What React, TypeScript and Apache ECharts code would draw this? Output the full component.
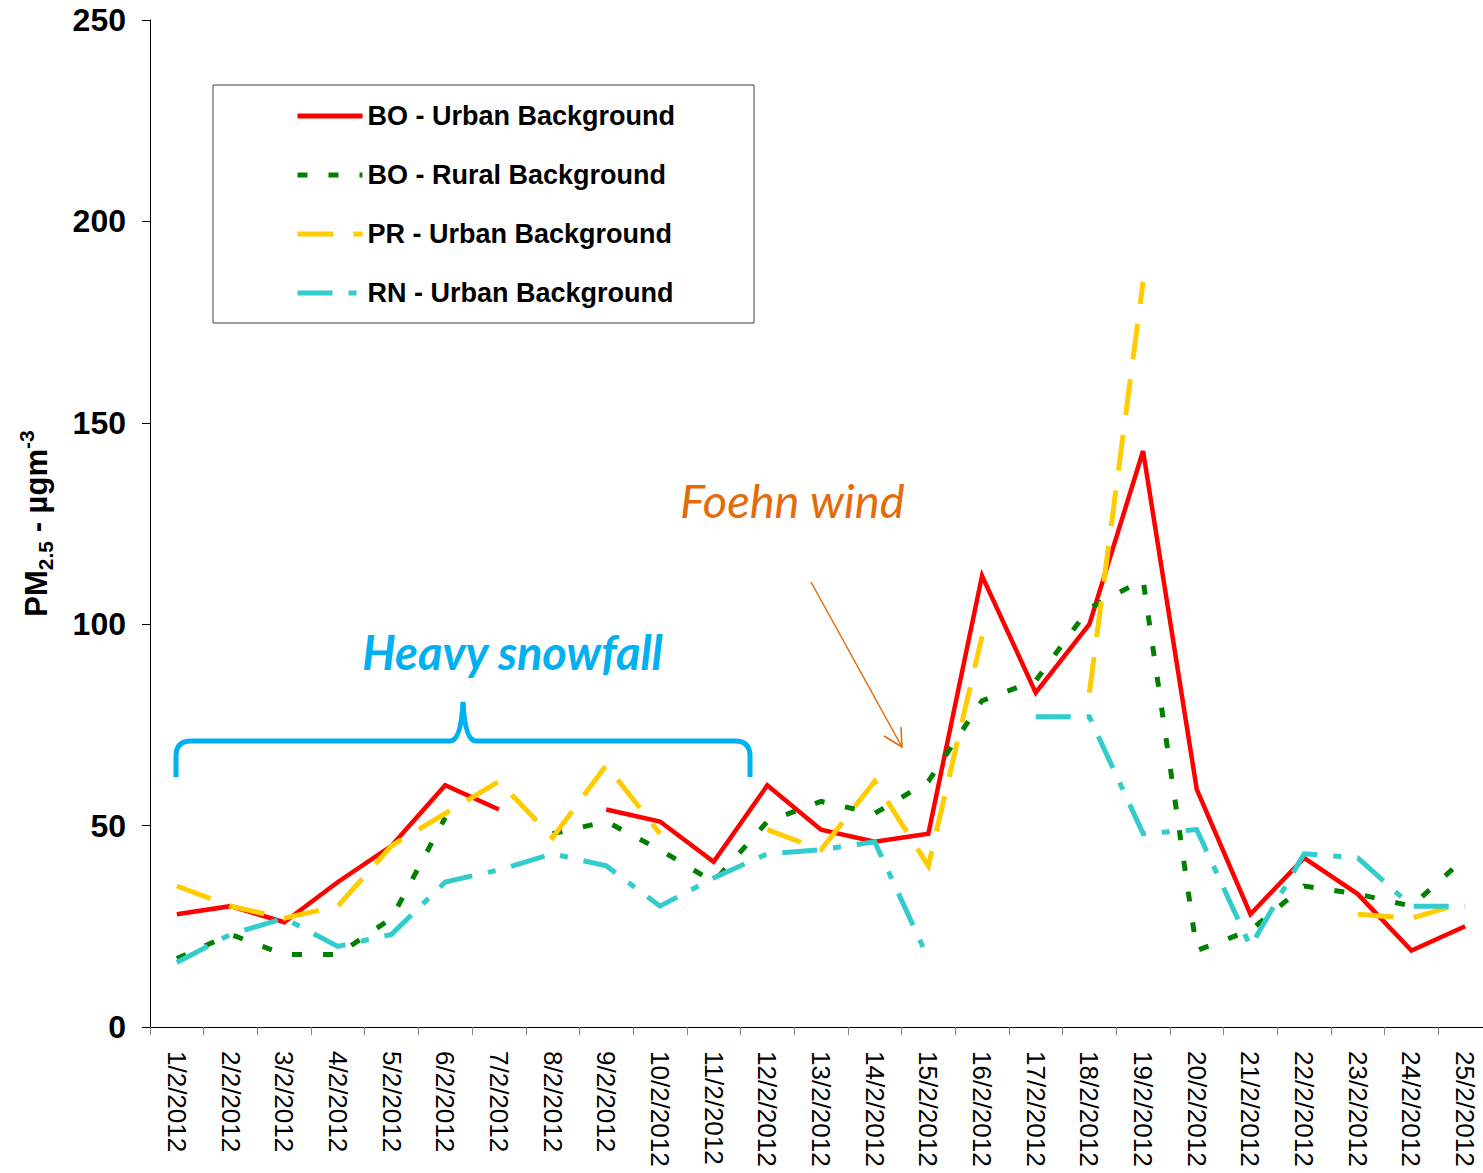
import React, { useEffect, useRef } from "react";
import * as echarts from "echarts";

const categories = [
  "1/2/2012", "2/2/2012", "3/2/2012", "4/2/2012", "5/2/2012", "6/2/2012", "7/2/2012",
  "8/2/2012", "9/2/2012", "10/2/2012", "11/2/2012", "12/2/2012", "13/2/2012", "14/2/2012",
  "15/2/2012", "16/2/2012", "17/2/2012", "18/2/2012", "19/2/2012", "20/2/2012", "21/2/2012",
  "22/2/2012", "23/2/2012", "24/2/2012", "25/2/2012",
];

const seriesNames = [
  "BO - Urban Background",
  "BO - Rural Background",
  "PR - Urban Background",
  "RN - Urban Background",
];

const boUrban = [28, 30, 26, 36, 45, 60, 54, null, 54, 51, 41, 60, 49, 46, 48, 112, 83, 100, 143, 59, 28, 42, 33, 19, 25];
const boRural = [17, 23, 18, 18, 27, 52, null, 48, 51, 44, 36, 51, 56, 53, 61, 81, 86, 104, 111, 19, 24, 35, 33, 30, 42];
const prUrban = [35, 30, 27, 30, 45, 53, 61, 47, 65, 48, null, 49, 44, 61, 40, 97, null, 83, 185, null, null, null, 28, 27, 31];
const rnUrban = [16, 23, 27, 20, 23, 36, 39, 43, 40, 30, 37, 43, 44, 46, 17, null, 77, 77, 48, 49, 20, 43, 42, 30, 30];

const yMin = 0;
const yMax = 250;
const yInterval = 50;

const annotationSnow = "Heavy snowfall";
const annotationFoehn = "Foehn wind";

const BRACE_D =
  "M 176 777 L 176 756 Q 176 741 191 741 L 450 741 Q 461 741 463 702 Q 465 741 476 741 L 735 741 Q 750 741 750 756 L 750 777";

let shapesRegistered = false;
function ensureShapes() {
  if (shapesRegistered) return;
  echarts.graphic.registerShape("brace", echarts.graphic.extendPath(BRACE_D, {}));
  shapesRegistered = true;
}

const FONT = "'Liberation Sans', Arial, sans-serif";
const ANNO_FONT = "Lato, 'Open Sans', sans-serif";

export default function App() {
  const ref = useRef<HTMLDivElement>(null);

  useEffect(() => {
    if (!ref.current) return;
    ensureShapes();
    const chart = echarts.init(ref.current, undefined, { renderer: "svg" });

    const lineSeries = (name: string, data: (number | null)[], color: string, width: number, dash: any, z: number) => ({
      name,
      type: "line",
      data,
      symbol: "none",
      showSymbol: false,
      connectNulls: false,
      z,
      itemStyle: { color },
      lineStyle: { color, width, type: dash, cap: "butt", join: "miter" },
    });

    chart.setOption({
      animation: false,
      backgroundColor: "#ffffff",
      grid: { left: 150, top: 20, width: 1342, height: 1007, containLabel: false },
      legend: {
        orient: "vertical",
        left: 213,
        top: 85,
        padding: [16, 79, 15, 82],
        itemGap: 29,
        itemWidth: 65,
        itemHeight: 14,
        borderColor: "#404040",
        borderWidth: 1,
        selectedMode: false,
        data: seriesNames,
        itemStyle: { opacity: 0 },
        lineStyle: { width: 5 },
        textStyle: { fontSize: 27, fontWeight: "bold", fontFamily: FONT, color: "#000", lineHeight: 30 },
      },
      xAxis: {
        type: "category",
        data: categories,
        boundaryGap: true,
        axisLine: { show: true, lineStyle: { color: "#000", width: 1 } },
        axisTick: { show: true, length: 8, lineStyle: { color: "#808080", width: 1 } },
        axisLabel: { interval: 0, rotate: -90, margin: 24, fontSize: 26, fontFamily: FONT, color: "#000" },
        splitLine: { show: false },
      },
      yAxis: {
        type: "value",
        min: yMin,
        max: yMax,
        interval: yInterval,
        axisLine: { show: true, lineStyle: { color: "#000", width: 1 } },
        axisTick: { show: true, length: 8, lineStyle: { color: "#000", width: 1 } },
        axisLabel: { margin: 24, fontSize: 32, fontWeight: "bold", fontFamily: FONT, color: "#000" },
        splitLine: { show: false },
        name: "{a|PM}{b|2.5}{a| - µgm}{c|-3}",
        nameLocation: "middle",
        nameRotate: 90,
        nameGap: 94,
        nameTextStyle: {
          rich: {
            a: { fontSize: 31, fontWeight: "bold", fontFamily: FONT, color: "#000", lineHeight: 40 },
            b: { fontSize: 21, fontWeight: "bold", fontFamily: FONT, color: "#000", lineHeight: 20, verticalAlign: "bottom" },
            c: { fontSize: 21, fontWeight: "bold", fontFamily: FONT, color: "#000", lineHeight: 20, verticalAlign: "top" },
          },
        },
      },
      series: [
        lineSeries(seriesNames[0], boUrban, "#FF0000", 4.5, "solid", 2),
        lineSeries(seriesNames[1], boRural, "#008000", 5, [10, 21], 3),
        lineSeries(seriesNames[2], prUrban, "#FFCC00", 5, [36, 20], 4),
        lineSeries(seriesNames[3], rnUrban, "#33CCCC", 5, [35, 16, 8, 16], 5),
      ],
      graphic: [
        {
          type: "brace",
          x: 0,
          y: 0,
          silent: true,
          style: { stroke: "#00B0F0", lineWidth: 5, fill: "none" },
        },
        {
          type: "text",
          silent: true,
          style: {
            text: annotationSnow,
            x: 362,
            y: 652,
            fill: "#00B0F0",
            fontSize: 47,
            fontWeight: "bold",
            fontStyle: "italic",
            fontFamily: ANNO_FONT,
            align: "left",
            verticalAlign: "middle",
          },
        },
        {
          type: "text",
          silent: true,
          style: {
            text: annotationFoehn,
            x: 680,
            y: 500,
            fill: "#E36C09",
            fontSize: 47,
            fontStyle: "italic",
            fontFamily: ANNO_FONT,
            align: "left",
            verticalAlign: "middle",
          },
        },
        {
          type: "polyline",
          silent: true,
          shape: { points: [[811, 582], [902, 747]] },
          style: { stroke: "#E36C09", lineWidth: 1.5, fill: "none" },
        },
        {
          type: "polyline",
          silent: true,
          shape: { points: [[884, 736], [902, 747], [901, 727]] },
          style: { stroke: "#E36C09", lineWidth: 1.5, fill: "none" },
        },
      ],
    });

    return () => chart.dispose();
  }, []);

  return (
    <div style={{ position: "absolute", left: 0, top: 0, width: 1483, height: 1173, overflow: "hidden", background: "#fff" }}>
      <div ref={ref} style={{ width: 1492, height: 1173 }} />
    </div>
  );
}
